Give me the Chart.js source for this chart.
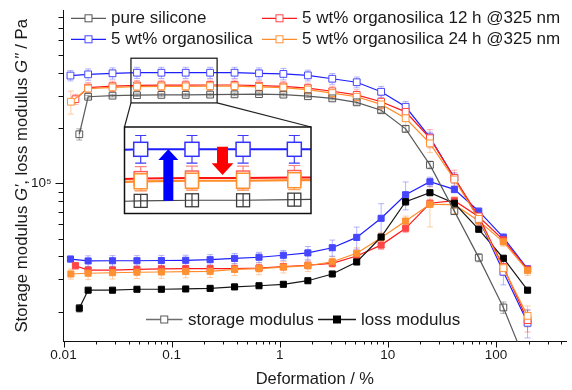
<!DOCTYPE html>
<html><head><meta charset="utf-8">
<script src="https://cdn.jsdelivr.net/npm/chart.js@4.4.0/dist/chart.umd.min.js"></script>
<style>html,body{margin:0;padding:0;background:#fff;}canvas{display:block;}</style>
</head><body>
<canvas id="c" width="572" height="390" style="width:572px;height:390px"></canvas>
<script>
// ---- data (strain in %, moduli in Pa) ----
const strain = [0.0169, 0.0284, 0.0478, 0.0804, 0.135, 0.227, 0.382, 0.643, 1.08, 1.82, 3.06, 5.15, 8.66, 14.6, 24.5, 41.2, 69.3, 117, 196];
const firstStrainSilicone = 0.0140;
const firstStrainOrgano = 0.0116;
const firstStrainUV12 = 0.0129;
const firstStrainUV24 = 0.0117;

const storageSilicone = [185000, 296000, 300000, 302000, 303000, 303000, 304000, 305000, 306000, 304000, 298000, 290000, 276000, 250000, 198000, 126000, 70600, 39400, 21100, 10000];
const storageOrgano   = [386000, 392000, 397000, 400000, 400000, 400000, 400000, 400000, 397000, 394000, 387000, 371000, 355000, 315000, 261000, 178000, 107000, 64000, 33000, 17400];
const storageUV12     = [287000, 332000, 338000, 341000, 342000, 342000, 343000, 343000, 340000, 337000, 330000, 317000, 303000, 278000, 245000, 176000, 107000, 66000, 35000, 18000];
const storageUV24     = [278000, 328000, 333000, 336000, 337000, 337000, 338000, 338000, 335000, 332000, 324000, 310000, 296000, 269000, 226000, 165000, 105000, 64000, 34500, 19000];

const lossSilicone = [20900, 26200, 26200, 26500, 26500, 26600, 26800, 27300, 27700, 28200, 29500, 32100, 37300, 51000, 79400, 88900, 77900, 56200, 39100, 26200];
const lossOrgano   = [38700, 37800, 37900, 37900, 38000, 38100, 38400, 39000, 39600, 40600, 41800, 44600, 50800, 64500, 86700, 102000, 92700, 70500, 50800, 34200];
const lossUV12     = [35600, 33700, 33700, 34000, 34200, 34300, 34300, 34300, 34600, 35200, 35800, 36700, 40200, 46100, 56900, 77900, 80400, 65800, 49200, 34000];
const lossUV24     = [32100, 32400, 32600, 32800, 32900, 33100, 33200, 34000, 34300, 35000, 35600, 37400, 41600, 50600, 62300, 76900, 76500, 62400, 48000, 33500];

const errStorageSilicone = [13000, 5000, 5000, 5000, 5000, 5000, 5000, 5000, 5000, 5000, 5000, 5000, 6000, 7000, 8000, 6000, 3000, 2000, 1500, 1000];
const errStorageOrgano   = [25000, 28000, 28000, 28000, 28000, 28000, 28000, 28000, 28000, 28000, 26000, 25000, 24000, 22000, 18000, 12000, 7000, 5000, 5000, 3000];
const errStorageUV12     = [18000, 22000, 22000, 22000, 22000, 22000, 22000, 22000, 22000, 22000, 21000, 21000, 20000, 22000, 24000, 20000, 11000, 6000, 3500, 2500];
const errStorageUV24     = [40000, 16000, 16000, 16000, 16000, 16000, 16000, 16000, 16000, 16000, 16000, 16000, 16000, 18000, 20000, 18000, 9000, 5000, 3000, 2500];
const errLossSilicone = [1000, 600, 600, 600, 600, 600, 600, 600, 600, 600, 700, 800, 1000, 2000, 3500, 2500, 2000, 1500, 1200, 800];
const errLossOrgano   = [1500, 2500, 2500, 2500, 2500, 2500, 2500, 2500, 2500, 2500, 3500, 4500, 7000, 13000, 15000, 6000, 4000, 3000, 2500, 1500];
const errLossUV12     = [1500, 1500, 1500, 1500, 1500, 1500, 1500, 1500, 1500, 1500, 1500, 1500, 2000, 2500, 3000, 4000, 3000, 2500, 2000, 1500];
const errLossUV24     = [2000, 2500, 2500, 2500, 2500, 2500, 2500, 2500, 2500, 2500, 2500, 2500, 3000, 3500, 4000, 19000, 8000, 4000, 2500, 2000];

const xTickLabels = {0.01: '0.01', 0.1: '0.1', 1: '1', 10: '10', 100: '100'};
const yTickLabels = {100000: '10\u2075'};
const legendTop = ['pure silicone', '5 wt% organosilica', '5 wt% organosilica 12 h @325 nm', '5 wt% organosilica 24 h @325 nm'];
const legendBottom = ['storage modulus', 'loss modulus'];

// ---- styles ----
const FONT = '"Liberation Sans", Arial, Helvetica, sans-serif';
const TXT = '#1a1a1a';
const COL = {
  grey:   {line: 'rgb(90,90,90)',   mk: 'rgb(85,85,85)',   err: 'rgba(70,70,70,0.45)'},
  blue:   {line: 'rgb(30,30,255)',  mk: 'rgb(70,70,255)',  err: 'rgba(90,90,255,0.45)'},
  red:    {line: 'rgb(255,25,25)',  mk: 'rgb(255,70,70)',  err: 'rgba(255,80,80,0.45)'},
  orange: {line: 'rgb(255,140,40)', mk: 'rgb(255,145,50)', err: 'rgba(255,160,80,0.5)'},
  black:  {line: 'rgb(25,25,25)',   mk: 'rgb(0,0,0)',      err: 'rgba(0,0,0,0.45)'}
};

function pts(x0, vals) { return vals.map((v, i) => ({x: i === 0 ? x0 : strain[i - 1], y: v})); }
function storageDs(label, x0, vals, errs, c, fill) {
  return {label, data: pts(x0, vals), errors: errs, errColor: c.err, borderColor: c.line, borderWidth: 1.2,
    pointStyle: 'rect', pointRadius: 4.8, pointBorderColor: c.mk, pointBackgroundColor: fill, pointBorderWidth: 1,
    showLine: true, fill: false, tension: 0};
}
function lossDs(label, x0, vals, errs, c) {
  return {label, data: pts(x0, vals), errors: errs, errColor: c.err, borderColor: c.line, borderWidth: 1.2,
    pointStyle: 'rect', pointRadius: 4.3, pointBorderColor: c.mk, pointBackgroundColor: c.mk, pointBorderWidth: 1,
    showLine: true, fill: false, tension: 0};
}

const datasets = [
  storageDs("G' pure silicone", firstStrainSilicone, storageSilicone, errStorageSilicone, COL.grey, 'rgba(255,255,255,0)'),
  storageDs("G' 24 h", firstStrainUV24, storageUV24, errStorageUV24, COL.orange, '#fff'),
  storageDs("G' 12 h", firstStrainUV12, storageUV12, errStorageUV12, COL.red, '#fff'),
  storageDs("G' organosilica", firstStrainOrgano, storageOrgano, errStorageOrgano, COL.blue, '#fff'),
  lossDs("G'' pure silicone", firstStrainSilicone, lossSilicone, errLossSilicone, COL.black),
  lossDs("G'' 24 h", firstStrainUV24, lossUV24, errLossUV24, COL.orange),
  lossDs("G'' 12 h", firstStrainUV12, lossUV12, errLossUV12, COL.red),
  lossDs("G'' organosilica", firstStrainOrgano, lossOrgano, errLossOrgano, COL.blue)
];

const isMajor = v => Math.abs(Math.log10(v) - Math.round(Math.log10(v))) < 1e-9;
const isIntMantissa = v => { const m = v / Math.pow(10, Math.floor(Math.log10(v) + 1e-9)); return Math.abs(m - Math.round(m)) < 1e-6; };

const errorBars = {
  id: 'errorBars',
  beforeDatasetsDraw(chart) {
    const {ctx, chartArea: a, scales: {x, y}} = chart;
    ctx.save();
    ctx.beginPath(); ctx.rect(a.left, a.top, a.right - a.left, a.bottom - a.top); ctx.clip();
    chart.data.datasets.forEach(d => {
      if (!d.errors) return;
      ctx.strokeStyle = d.errColor; ctx.lineWidth = 1;
      d.data.forEach((p, i) => {
        const e = d.errors[i];
        const px = x.getPixelForValue(p.x);
        const y1 = y.getPixelForValue(p.y + e), y2 = y.getPixelForValue(Math.max(p.y - e, 1));
        ctx.beginPath();
        ctx.moveTo(px, y1); ctx.lineTo(px, y2);
        ctx.moveTo(px - 3, y1); ctx.lineTo(px + 3, y1);
        ctx.moveTo(px - 3, y2); ctx.lineTo(px + 3, y2);
        ctx.stroke();
      });
    });
    ctx.restore();
  }
};

const tickMarks = {
  id: 'tickMarks',
  afterDraw(chart) {
    const {ctx, chartArea: a, scales: {x, y}} = chart;
    ctx.save(); ctx.strokeStyle = '#111'; ctx.lineWidth = 1;
    x.ticks.forEach(t => {
      if (!isIntMantissa(t.value)) return;
      const px = Math.round(x.getPixelForValue(t.value)) + 0.5;
      const L = isMajor(t.value) ? 6 : 3;
      ctx.beginPath(); ctx.moveTo(px, a.bottom); ctx.lineTo(px, a.bottom + L); ctx.stroke();
    });
    y.ticks.forEach(t => {
      if (!isIntMantissa(t.value)) return;
      const py = Math.round(y.getPixelForValue(t.value)) + 0.5;
      const L = isMajor(t.value) ? 8 : 5;
      ctx.beginPath(); ctx.moveTo(a.left, py); ctx.lineTo(a.left - L, py); ctx.stroke();
    });
    ctx.restore();
  }
};

function square(ctx, cx, cy, w, h, stroke, fill, lw) {
  ctx.lineWidth = lw;
  if (fill) { ctx.fillStyle = fill; ctx.fillRect(cx - w / 2, cy - h / 2, w, h); }
  ctx.strokeStyle = stroke; ctx.strokeRect(cx - w / 2, cy - h / 2, w, h);
}
function vbar(ctx, cx, cy, half, cap, color, lw) {
  ctx.strokeStyle = color; ctx.lineWidth = lw;
  ctx.beginPath();
  ctx.moveTo(cx, cy - half); ctx.lineTo(cx, cy + half);
  ctx.moveTo(cx - cap / 2, cy - half); ctx.lineTo(cx + cap / 2, cy - half);
  ctx.moveTo(cx - cap / 2, cy + half); ctx.lineTo(cx + cap / 2, cy + half);
  ctx.stroke();
}
function arrow(ctx, cx, yFrom, yTip, shaftW, headW, headH, color) {
  const dir = yTip < yFrom ? -1 : 1;
  const base = yTip - dir * headH;
  ctx.fillStyle = color;
  ctx.beginPath();
  ctx.moveTo(cx - shaftW / 2, yFrom); ctx.lineTo(cx - shaftW / 2, base);
  ctx.lineTo(cx - headW / 2, base); ctx.lineTo(cx, yTip); ctx.lineTo(cx + headW / 2, base);
  ctx.lineTo(cx + shaftW / 2, base); ctx.lineTo(cx + shaftW / 2, yFrom);
  ctx.closePath(); ctx.fill();
}

const inset = {
  id: 'inset',
  afterDatasetsDraw(chart) {
    const {ctx, scales: {x, y}} = chart;
    const first = 3, last = 6; // magnified points (i2..i5)
    const px = i => x.getPixelForValue(strain[i - 1]);
    const src = {l: px(first) - 6, r: px(last) + 7,
                 t: y.getPixelForValue(storageOrgano[first]) - 14.5,
                 b: y.getPixelForValue(storageSilicone[last]) + 8.3};
    const box = {l: 124.5, t: 127, r: 311, b: 213.5};
    const x0 = px(first), y0 = y.getPixelForValue(storageOrgano[first]);
    const X = p => 140.7 + (p - x0) * 2.1;
    const Y = p => 149.3 + (p - y0) * 2.3;
    ctx.save();
    ctx.strokeStyle = '#222'; ctx.lineWidth = 1.3;
    ctx.strokeRect(src.l, src.t, src.r - src.l, src.b - src.t);
    ctx.lineWidth = 1.2;
    ctx.beginPath(); ctx.moveTo(src.l, src.b); ctx.lineTo(box.l, box.t); ctx.moveTo(src.r, src.b); ctx.lineTo(box.r, box.t); ctx.stroke();
    ctx.fillStyle = '#fff'; ctx.fillRect(box.l, box.t, box.r - box.l, box.b - box.t);
    ctx.save();
    ctx.beginPath(); ctx.rect(box.l, box.t, box.r - box.l, box.b - box.t); ctx.clip();
    const series = [
      {vals: storageSilicone, color: 'rgb(70,70,70)', lw: 1.2},
      {vals: storageUV24, color: 'rgb(255,140,40)', lw: 2.2},
      {vals: storageUV12, color: 'rgb(255,20,20)', lw: 2},
      {vals: storageOrgano, color: 'rgb(30,30,255)', lw: 2}
    ];
    series.forEach(s => {
      ctx.strokeStyle = s.color; ctx.lineWidth = s.lw; ctx.beginPath();
      s.vals.forEach((v, i) => {
        const xx = X(i === 0 ? x.getPixelForValue(firstStrainOrgano) : px(i)), yy = Y(y.getPixelForValue(v));
        i === 0 ? ctx.moveTo(xx, yy) : ctx.lineTo(xx, yy);
      });
      ctx.stroke();
    });
    for (let i = first; i <= last; i++) {
      const cx = X(px(i));
      const gy = Y(y.getPixelForValue(storageSilicone[i]));
      square(ctx, cx, gy, 13, 13, 'rgb(60,60,60)', null, 1.3);
      ctx.strokeStyle = 'rgb(60,60,60)'; ctx.lineWidth = 1.2;
      ctx.beginPath(); ctx.moveTo(cx, gy - 6.5); ctx.lineTo(cx, gy + 6.5); ctx.stroke();
      const ry = Y(y.getPixelForValue(storageUV12[i]));
      const oy = Y(y.getPixelForValue(storageUV24[i]));
      vbar(ctx, cx, ry, 12, 12, 'rgba(255,90,90,0.75)', 1.2);
      vbar(ctx, cx, oy, 9.5, 12, 'rgba(255,170,90,0.85)', 1.2);
      square(ctx, cx, ry, 13, 14, 'rgb(255,90,90)', '#fff', 1.4);
      square(ctx, cx, oy, 13, 15, 'rgb(255,145,45)', '#fff', 1.5);
      const by = Y(y.getPixelForValue(storageOrgano[i]));
      vbar(ctx, cx, by, 13.8, 11, 'rgb(60,60,255)', 1.2);
      square(ctx, cx, by, 14, 14, 'rgb(50,50,255)', '#fff', 1.5);
    }
    // arrows
    const c0 = X(px(first)), c1 = X(px(first + 1)), c2 = X(px(first + 2));
    const blueY = Y(y.getPixelForValue(storageOrgano[first]));
    const greyY = Y(y.getPixelForValue(storageSilicone[first]));
    const redY = Y(y.getPixelForValue(storageUV12[first + 1]));
    arrow(ctx, (c0 + c1) / 2 + 2, greyY, blueY, 10, 20, 10.7, 'rgb(0,0,255)');
    arrow(ctx, (c1 + c2) / 2 + 5, blueY - 2.6, redY - 3, 11, 21.7, 11.7, 'rgb(255,0,0)');
    ctx.restore();
    ctx.strokeStyle = '#111'; ctx.lineWidth = 1.5;
    ctx.strokeRect(box.l, box.t, box.r - box.l, box.b - box.t);
    ctx.restore();
  }
};

function legendEntry(ctx, x1, x2, yy, lineColor, mkColor, mkFill, text, tx) {
  ctx.strokeStyle = lineColor; ctx.lineWidth = 1.3;
  ctx.beginPath(); ctx.moveTo(x1, yy); ctx.lineTo(x2, yy); ctx.stroke();
  const mx = (x1 + x2) / 2;
  ctx.fillStyle = mkFill || '#fff'; ctx.fillRect(mx - 3.5, yy - 3.5, 7, 7);
  ctx.strokeStyle = mkColor; ctx.lineWidth = 1; ctx.strokeRect(mx - 3.5, yy - 3.5, 7, 7);
  ctx.fillStyle = TXT; ctx.font = '17px ' + FONT; ctx.textBaseline = 'middle'; ctx.textAlign = 'left';
  ctx.fillText(text, tx, yy + 0.5);
}

const legends = {
  id: 'legends',
  afterDraw(chart) {
    const {ctx} = chart;
    ctx.save();
    legendEntry(ctx, 71, 106, 18.3, COL.grey.line, COL.grey.mk, '#fff', legendTop[0], 111);
    legendEntry(ctx, 71, 106, 39.3, COL.blue.line, COL.blue.mk, '#fff', legendTop[1], 111);
    legendEntry(ctx, 262, 297, 18.3, COL.red.line, COL.red.mk, '#fff', legendTop[2], 302);
    legendEntry(ctx, 262, 297, 39.3, COL.orange.line, COL.orange.mk, '#fff', legendTop[3], 302);
    legendEntry(ctx, 146, 182.5, 319.5, 'rgb(110,110,110)', 'rgb(90,90,90)', '#fff', legendBottom[0], 188);
    legendEntry(ctx, 318, 356, 319.5, COL.black.line, '#000', '#000', legendBottom[1], 361);
    ctx.restore();
  }
};

const yTitle = {
  id: 'yTitle',
  afterDraw(chart) {
    const {ctx} = chart;
    const segs = [['Storage modulus ', false], ["G'", true], [', loss modulus ', false], ["G''", true], [' / Pa', false]];
    const nf = '16.8px ' + FONT, itf = 'italic 16.8px ' + FONT;
    ctx.save();
    let total = 0;
    segs.forEach(s => { ctx.font = s[1] ? itf : nf; total += ctx.measureText(s[0]).width; });
    const cy = (chart.chartArea.top + chart.chartArea.bottom) / 2;
    ctx.translate(27, cy); ctx.rotate(-Math.PI / 2);
    ctx.fillStyle = TXT; ctx.textBaseline = 'alphabetic'; ctx.textAlign = 'left';
    let xx = -total / 2;
    segs.forEach(s => { ctx.font = s[1] ? itf : nf; ctx.fillText(s[0], xx, 0); xx += ctx.measureText(s[0]).width; });
    ctx.restore();
  }
};

new Chart(document.getElementById('c'), {
  type: 'scatter',
  data: {datasets},
  options: {
    responsive: false, animation: false, devicePixelRatio: 1,
    layout: {padding: {top: 10, right: 0, left: 0, bottom: 0}},
    plugins: {legend: {display: false}, tooltip: {enabled: false}},
    scales: {
      x: {
        type: 'logarithmic', position: 'bottom', min: 0.01, max: 446,
        afterFit: s => { s.height = 48.5; s.paddingLeft = 0; s.paddingRight = 0; },
        border: {display: true, color: '#111', width: 1},
        grid: {display: true, drawOnChartArea: false, drawTicks: false},
        ticks: {autoSkip: false, maxRotation: 0, padding: 6, color: TXT, font: {family: FONT, size: 13.5},
          callback: v => xTickLabels[+(+v).toPrecision(6)] || ''},
        title: {display: true, text: 'Deformation / %', color: TXT, font: {family: FONT, size: 16.5}, padding: {top: 0, bottom: 1}}
      },
      y: {
        type: 'logarithmic', position: 'left', min: 13770, max: 878000,
        afterFit: s => { s.width = 63.5; s.paddingTop = 0; s.paddingBottom = 0; },
        border: {display: true, color: '#111', width: 1},
        grid: {display: true, drawOnChartArea: false, drawTicks: false},
        ticks: {autoSkip: false, padding: 12, color: TXT, font: {family: FONT, size: 13.5},
          callback: v => yTickLabels[+(+v).toPrecision(6)] || ''}
      }
    }
  },
  plugins: [errorBars, inset, tickMarks, legends, yTitle]
});
</script>
</body></html>
